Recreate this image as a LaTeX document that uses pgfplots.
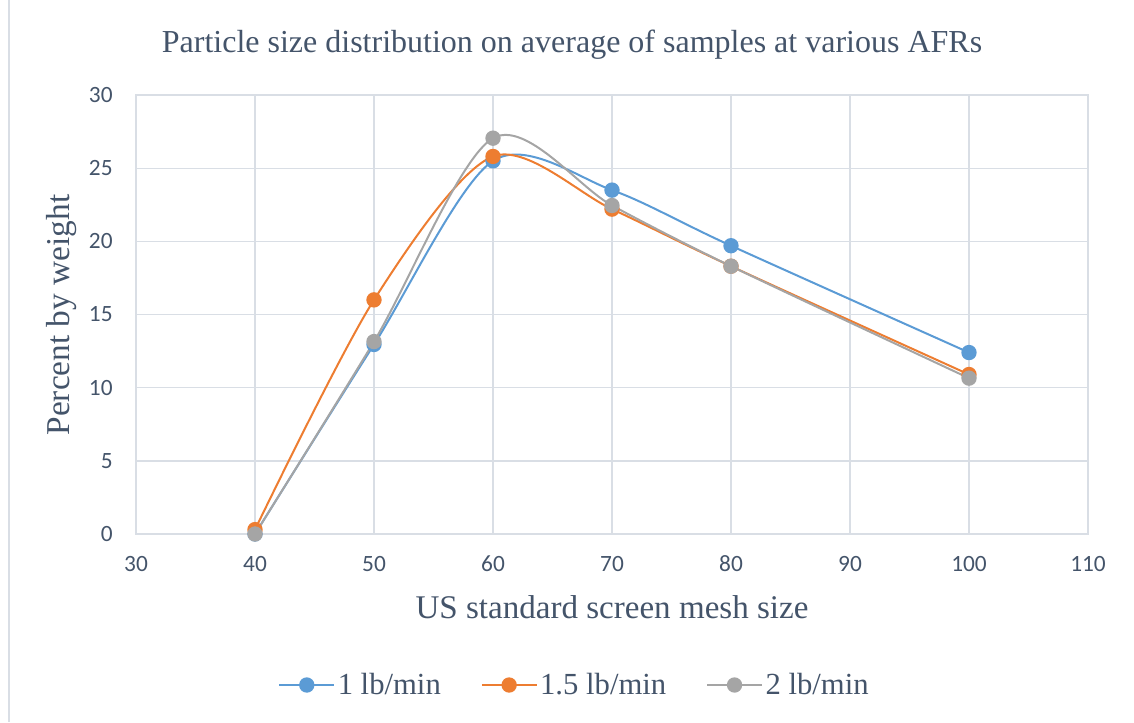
\documentclass[border=0pt]{standalone}
\usepackage{pgfplots}
\pgfplotsset{compat=1.18}
\usepackage{fontspec}
\setmainfont{Liberation Serif}
\newfontfamily\carlito{Carlito}
\definecolor{txt}{HTML}{44546A}
\definecolor{gridc}{HTML}{D9DEE5}
\definecolor{cblue}{HTML}{5B9BD5}
\definecolor{corange}{HTML}{ED7D31}
\definecolor{cgray}{HTML}{A5A5A5}
\begin{document}
\begin{tikzpicture}
\useasboundingbox (0,0) rectangle (850.5pt,541.5pt);
\draw[gridc, line width=1.5pt] (7pt,0) -- (7pt,541.5pt);
\begin{axis}[
  at={(102pt,141pt)}, anchor=south west,
  scale only axis, width=714pt, height=329.25pt,
  xmin=30, xmax=110, ymin=0, ymax=30,
  xtick={30,40,...,110}, ytick={0,5,...,30},
  grid=major, major grid style={gridc, line width=1pt},
  axis line style={gridc, line width=1pt},
  major tick length=0pt,
  /pgf/number format/assume math mode=true,
  tick label style={font=\carlito\fontsize{17.5}{20}\selectfont, text=txt},
  xticklabel style={yshift=-13pt},
  yticklabel style={xshift=-14pt},
  legend columns=3,
  legend style={at={(0.461,-0.344)}, anchor=center, draw=none, fill=none,
    font=\fontsize{23}{27}\selectfont, text=txt,
    /tikz/every even column/.append style={column sep=28pt}},
  legend image code/.code={\draw[mark repeat=2,mark phase=2,#1] plot coordinates {(0cm,0cm) (0.72cm,0cm) (1.44cm,0cm)};},
  every axis plot/.append style={line width=1.5pt, smooth, tension=0.5},
  mark options={solid},
]
\addplot[cblue, mark=*, mark size=5pt] coordinates {(40,0) (50,12.95) (60,25.5) (70,23.5) (80,19.7) (100,12.4)};
\addlegendentry{1 lb/min}
\addplot[corange, mark=*, mark size=5pt] coordinates {(40,0.3) (50,16.0) (60,25.8) (70,22.2) (80,18.3) (100,10.9)};
\addlegendentry{1.5 lb/min}
\addplot[cgray, mark=*, mark size=5pt] coordinates {(40,0) (50,13.15) (60,27.05) (70,22.45) (80,18.3) (100,10.65)};
\addlegendentry{2 lb/min}
\end{axis}
\node[text=txt, font=\fontsize{24}{28}\selectfont] at (429pt,507.75pt) {Particle size distribution on average of samples at various AFRs};
\node[text=txt, font=\fontsize{24.8}{29}\selectfont] at (459pt,86.25pt) {US standard screen mesh size};
\node[text=txt, font=\fontsize{25}{29}\selectfont, rotate=90] at (46.5pt,305.25pt) {Percent by weight};
\end{tikzpicture}
\end{document}
